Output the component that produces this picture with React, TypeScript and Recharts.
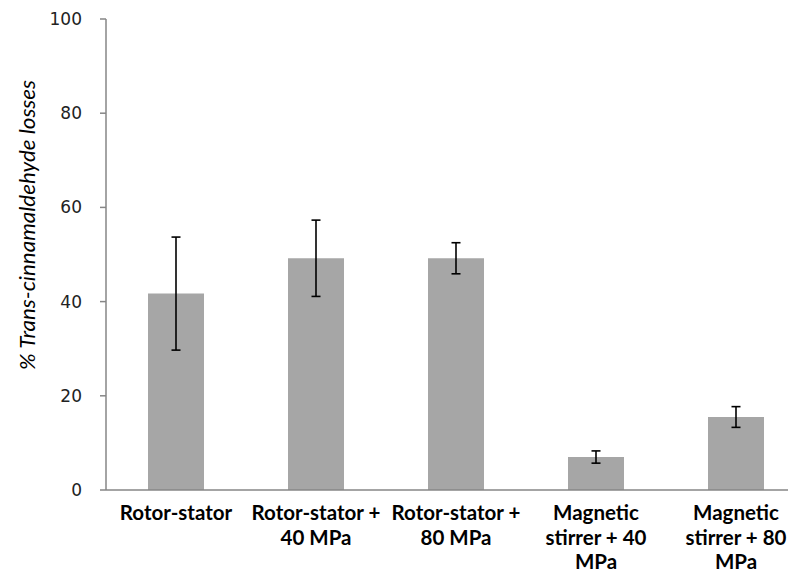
import { Bar, BarChart, ErrorBar, XAxis, YAxis } from "recharts";

// category labels, one entry per line
const categories: string[][] = [
  ["Rotor-stator"],
  ["Rotor-stator +", "40 MPa"],
  ["Rotor-stator +", "80 MPa"],
  ["Magnetic", "stirrer + 40", "MPa"],
  ["Magnetic", "stirrer + 80", "MPa"],
];
const losses = [41.7, 49.2, 49.2, 7.0, 15.5];
const errors = [12.0, 8.1, 3.3, 1.3, 2.2];
const yTicks = [0, 20, 40, 60, 80, 100];

const data = categories.map((lines, i) => ({
  name: lines.join(" "),
  lines,
  loss: losses[i],
  err: errors[i],
}));

const AXIS = "#868686";
const BAR = "#a6a6a6";

function CategoryTick({ x, y, index }: { x?: number; y?: number; index?: number }) {
  const lines = categories[index ?? 0] ?? [];
  return (
    <text
      x={x}
      y={(y ?? 0) + 22}
      textAnchor="middle"
      fontFamily="Lato, 'Open Sans', sans-serif"
      fontWeight={700}
      fontSize={20.5}
      fill="#000"
    >
      {lines.map((l, i) => (
        <tspan key={i} x={x} dy={i === 0 ? 0 : 24.5}>
          {l}
        </tspan>
      ))}
    </text>
  );
}

export default function App() {
  return (
    <div style={{ margin: -8, width: 796, height: 581, overflow: "hidden", background: "#fff" }}>
      <BarChart
        width={810}
        height={581}
        data={data}
        margin={{ top: 19, right: 4, bottom: 0, left: 0 }}
        barCategoryGap={42}
      >
        <XAxis
          dataKey="name"
          height={91}
          interval={0}
          stroke={AXIS}
          strokeWidth={1.5}
          tickLine={false}
          tick={<CategoryTick />}
        />
        <YAxis
          width={106}
          domain={[0, 100]}
          ticks={yTicks}
          interval={0}
          stroke={AXIS}
          strokeWidth={1.5}
          tickSize={6}
          tickMargin={18}
          tick={{ fill: "#222", fontSize: 17, fontFamily: "'DejaVu Sans', Verdana, sans-serif" }}
        />
        <Bar dataKey="loss" fill={BAR} isAnimationActive={false}>
          <ErrorBar dataKey="err" width={4.5} stroke="#000" strokeWidth={1.6} />
        </Bar>
        <text
          x={26}
          y={225}
          transform="rotate(-90 26 225)"
          textAnchor="middle"
          dominantBaseline="central"
          fontFamily="Lato, 'Open Sans', sans-serif"
          fontStyle="italic"
          fontSize={22}
          textLength={290}
          lengthAdjust="spacingAndGlyphs"
          fill="#000"
        >
          % Trans-cinnamaldehyde losses
        </text>
      </BarChart>
    </div>
  );
}
